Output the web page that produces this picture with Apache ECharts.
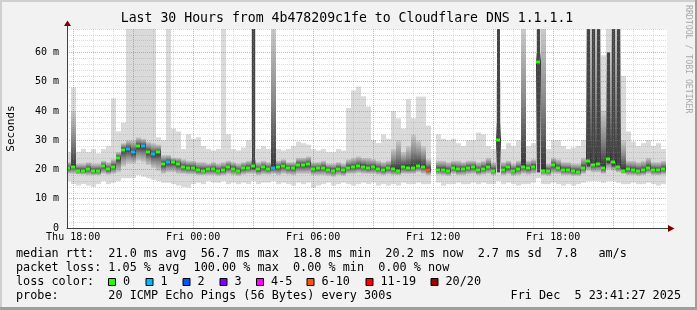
<!DOCTYPE html>
<html><head><meta charset="utf-8">
<script src="https://cdn.jsdelivr.net/npm/echarts@6/dist/echarts.min.js"></script>
<style>html,body{margin:0;padding:0;background:#f2f2f2}#c{width:697px;height:310px}</style>
</head><body><div id="c"></div>
<script>
// ---------- DATA (x = minutes since Thu 00:00) ----------
const START = 1061.45;           // Thu 17:41:27
const END = 2861.45;             // Fri 23:41:27
const FIRST = 1065;              // first sample, Thu 17:45
const STEP = 15;                 // minutes per sample

const median = [
  20.5,21.0,19.6,19.6,20.2,19.4,19.5,21.2,20.0,21.0,
  24.0,26.8,27.0,25.8,28.0,28.0,26.0,25.2,25.8,21.8,
  22.5,22.5,21.8,20.8,20.6,20.5,19.7,19.6,20.2,20.1,
  19.6,19.8,20.8,20.3,19.6,20.4,20.6,21.2,20.0,20.7,
  20.2,20.5,20.8,21.3,20.6,20.5,21.6,21.6,21.8,20.2,
  20.4,20.6,19.9,19.6,20.3,19.7,20.6,20.8,21.1,21.0,
  20.4,20.8,20.2,19.8,20.4,20.1,19.6,20.8,20.4,20.6,
  21.2,20.8,19.9,null,19.9,19.9,19.5,20.5,20.0,20.2,
  20.6,20.8,19.7,20.3,21.0,19.6,30.0,19.8,20.7,19.6,
  20.3,20.8,20.4,21.0,56.7,19.6,19.6,21.5,20.5,19.9,
  19.8,19.4,19.3,20.6,22.8,21.6,22.0,20.4,23.6,22.4,
  20.9,19.6,20.0,19.8,19.6,19.7,20.6,19.9,19.7,20.2
];
const outerLo = [
  16,15,14.5,15,14.5,14,15,16,15,15.5,
  16,17,17,17,18,17.5,17,16.5,16,15.5,
  15.5,15,14.5,14,13.8,15,15.5,15,16,15.5,
  15.5,16,15,15.5,15,15.5,15,16,15,15.5,
  15.5,16,15,15.5,15,14.5,15.5,15,15.5,13.7,
  14.5,15,15.5,14.5,15,15.5,15,14.5,15,15.5,
  15,15.5,14.5,15,14.5,15,14.5,15.5,15,15,
  15.5,15,15,null,15.5,14.5,15,15,15.5,15,
  15,15.5,15,15.5,15,15,16,15,15.5,15,
  14.5,15,15,15.5,17,15,15,15.5,15,14.5,
  15,14.5,15,15.5,16,16,16,15.5,16,16,
  15.5,15,15,15.5,15,15,15.5,15,14.5,15
];
const outerHi = [
  26,48,26,27,26,27,25.5,27,28,44.3,
  33,36,68,68,68,68,68,68,31,30,
  68,34,33,27,32,30.5,31,28,27,26.5,
  27,68,32,27,26.5,27.5,30,68,27,28,
  27,68,27,26.5,27,28,29.5,29,28.5,27,
  26.5,27,26,26,27,26.5,41,47,48.3,45,
  41.5,30,29,32,30.5,40,37.5,34,44,37.5,
  44.9,44.9,35,null,32,30.5,30,30.5,29,28,
  30,30,32.6,32,28,27,50.6,27,29,28,
  30,50,28,29,68,68,27,30,30,28,
  27,27.5,28,30,68,68,68,59,68,68,
  68,52,33,29.5,28,29,30,28,29,27
];
const midLo = [
  18.5,18.5,18.3,18.2,18,18,18,18.5,18.2,18.5,
  19,21,22,22,23,22.5,21.5,20.5,19.5,18.5,
  19,19,18.5,18.5,18.3,18.3,18,18,18,18,
  17.8,18,18.3,18,17.8,18.2,18.5,18.5,18,18.3,
  18.2,18.5,18,18.5,18.2,18,18.5,18.5,18.5,18,
  18,18,17.8,17.5,18,17.8,18.5,18.5,18.8,18.5,
  18.5,18.5,18.2,18,18.3,18,18,18.5,18.5,18.5,
  19,18.5,18,null,18.2,18,17.8,18.5,18,18,
  18.3,18.5,18,18.2,18.5,18,20,18,18.3,17.8,
  18,18.5,18.2,18.5,19,18,17.8,18.5,18.5,18,
  18,17.8,17.8,18.5,19.5,19,19,18.5,20,19.5,
  19,18.5,18,18,17.8,18,18.5,18,18,18.2
];
const midHi = [
  22.5,40,22,22,22.5,22,22,23,22.5,23.5,
  26,29,30,30,31,30.5,29.5,29,28.5,25,
  25,24,24,23.5,23,23,22.5,22.5,22,22.5,
  22,22.5,23,22.5,22,22.5,23,23.5,22.5,23,
  22.5,68,23,23.5,22.5,22.5,24,24,24.5,22.5,
  22.5,23,22,22,22.5,22,23.5,24,24.5,24,
  24,23.5,23,22.5,23,27,30,26,28,32,
  30,28,23.5,null,23,23,22.5,23,23,22.5,
  23,23,22.5,23,24,22.5,36,22.5,23,22,
  23,68,23,23.5,60,68,22,24,23.5,22.5,
  22.5,22,22,24,68,68,68,40,60,68,
  68,30,23,23,22.5,23,24,22.5,22.5,23
];
// columns where most pings were slow: [sample index, low, high]
const darkSpikes = [[37,20,68],[86,19,68],[94,19,68],[104,21,68],[105,21,68],[106,21,68],[108,22,60],[109,21,68],[110,21,68]];
// samples with packet loss: [sample index, lost pings]
const lossPoints = [[12,1],[13,1],[15,1],[17,1],[20,1],[41,1],[72,8]];

const xTickValues = [1080, 1440, 1800, 2160, 2520];
const xTickLabels = ['Thu 18:00', 'Fri 00:00', 'Fri 06:00', 'Fri 12:00', 'Fri 18:00'];
const lossLabels = ['0', '1', '2', '3', '4-5', '6-10', '11-19', '20/20'];
const lossUpper  = [0, 1, 2, 3, 5, 10, 19, 20];

const textRows = [
  'median rtt:  21.0 ms avg  56.7 ms max  18.8 ms min  20.2 ms now  2.7 ms sd  7.8   am/s',
  'packet loss: 1.05 % avg  100.00 % max  0.00 % min  0.00 % now',
  'loss color:',
  'probe:       20 ICMP Echo Pings (56 Bytes) every 300s'
];
const titleText = 'Last 30 Hours from 4b478209c1fe to Cloudflare DNS 1.1.1.1';
const stampText = 'Fri Dec  5 23:41:27 2025';

// ---------- STYLE ----------
const lossColors = ['#26ff00', '#00b8ff', '#0059ff', '#7e00ff', '#ff00ff', '#ff5500', '#ff0000', '#a10000'];
const MONO = '"DejaVu Sans Mono", monospace';
const GRID = 'rgba(143,143,143,0.32)';
const MGRID = 'rgba(222,80,80,0.5)';
const AXIS = '#404040';
const ARROW = '#7f0000';
const OUTER = '#dadada';
const LIGHT = '#cacaca', MIDC = '#8a8a8a', DARK = '#333333';

function lossColor(n) {
  for (let k = 0; k < lossUpper.length; k++) if (n <= lossUpper[k]) return lossColors[k];
  return lossColors[lossColors.length - 1];
}
const lossMap = {};
lossPoints.forEach(p => lossMap[p[0]] = p[1]);

function xOf(i) { return FIRST + STEP * i; }
function grad(top, bottom) {
  return new echarts.graphic.LinearGradient(0, 0, 0, 1, [
    {offset: 0, color: top}, {offset: 0.5, color: MIDC}, {offset: 1, color: bottom}]);
}
function colEdges(api, x) {
  const xl = Math.round(api.coord([x - STEP / 2, 0])[0]);
  const xr = Math.round(api.coord([x + STEP / 2, 0])[0]);
  return [xl, xr];
}

const outerData = [], midData = [], medData = [];
for (let i = 0; i < median.length; i++) {
  if (median[i] == null) continue;
  outerData.push([xOf(i), outerLo[i], outerHi[i]]);
  midData.push([xOf(i), midLo[i], midHi[i], median[i]]);
  medData.push([xOf(i), median[i], lossMap[i] || 0]);
}
const spikeData = darkSpikes.map(s => [xOf(s[0]), s[1], s[2]]);

const gridLines = [];
for (let v = 2; v <= 68; v += 2)
  gridLines.push({yAxis: v, lineStyle: {color: v % 10 === 0 ? MGRID : GRID, type: [1, 1], width: 1}});
for (let t = 1080; t < END; t += 60)
  gridLines.push({xAxis: t, lineStyle: {color: t % 180 === 0 ? MGRID : GRID, type: [1, 1], width: 1}});

const chart = echarts.init(document.getElementById('c'), null, {renderer: 'canvas', width: 697, height: 310});

const graphics = [
  {type: 'rect', shape: {x: 0, y: 0, width: 697, height: 2}, style: {fill: '#cfcfcf'}, silent: true},
  {type: 'rect', shape: {x: 0, y: 0, width: 2, height: 310}, style: {fill: '#cfcfcf'}, silent: true},
  {type: 'rect', shape: {x: 0, y: 307, width: 697, height: 3}, style: {fill: '#9e9e9e'}, silent: true},
  {type: 'rect', shape: {x: 695, y: 0, width: 2, height: 310}, style: {fill: '#9e9e9e'}, silent: true},
  {type: 'text', x: 347, y: 18.5, style: {text: titleText, fontFamily: MONO, fontSize: 13.2, fill: '#000', align: 'center', verticalAlign: 'middle'}},
  {type: 'text', x: 688, y: 5, rotation: -Math.PI / 2, style: {text: 'RRDTOOL / TOBI OETIKER', fontFamily: MONO, fontSize: 8.2, fill: '#a8a8a8', align: 'left', verticalAlign: 'middle'}},
  // axis arrows
  {type: 'line', shape: {x1: 667, y1: 228.5, x2: 669, y2: 228.5}, style: {stroke: AXIS, lineWidth: 1}, z: 50},
  {type: 'polygon', shape: {points: [[668, 225], [674.5, 228.5], [668, 232]]}, style: {fill: ARROW}, z: 50},
  {type: 'line', shape: {x1: 67.5, y1: 29, x2: 67.5, y2: 25}, style: {stroke: AXIS, lineWidth: 1}, z: 50},
  {type: 'polygon', shape: {points: [[64, 26], [67.5, 20.5], [71, 26]]}, style: {fill: ARROW}, z: 50},
  {type: 'text', x: 681, y: 296, style: {text: stampText, fontFamily: MONO, fontSize: 11.8, fill: '#000', align: 'right', verticalAlign: 'middle'}}
];
const rowY = [254, 268.3, 282.3, 296];
textRows.forEach((t, k) => graphics.push({type: 'text', x: 16, y: rowY[k],
  style: {text: t, fontFamily: MONO, fontSize: 11.8, fill: '#000', align: 'left', verticalAlign: 'middle'}}));
const boxX = [108, 145.5, 182.5, 219.5, 256, 306.5, 365.5, 430.5];
lossLabels.forEach((lab, k) => {
  graphics.push({type: 'rect', shape: {x: boxX[k] + 0.5, y: 278.5, width: 7, height: 7},
    style: {fill: lossColors[k], stroke: '#000', lineWidth: 1}});
  graphics.push({type: 'text', x: boxX[k] + 15, y: 282.3,
    style: {text: lab, fontFamily: MONO, fontSize: 11.8, fill: '#000', align: 'left', verticalAlign: 'middle'}});
});

chart.setOption({
  animation: false,
  backgroundColor: '#f2f2f2',
  grid: {left: 67, top: 29, width: 600, height: 199, show: true, backgroundColor: '#ffffff', borderWidth: 0,
         containLabel: false, outerBoundsMode: 'none'},
  xAxis: {
    type: 'value', min: START, max: END, z: 20,
    axisLine: {show: true, lineStyle: {color: AXIS, width: 1}},
    axisTick: {show: false},
    splitLine: {show: false},
    axisLabel: {
      customValues: xTickValues, margin: 4, fontFamily: MONO, fontSize: 10, color: '#000',
      formatter: v => { const k = xTickValues.indexOf(Math.round(v)); return k >= 0 ? xTickLabels[k] : ''; }
    }
  },
  yAxis: {
    type: 'value', min: 0, max: 68, interval: 2, z: 20,
    name: 'Seconds', nameLocation: 'middle', nameGap: 50,
    nameTextStyle: {fontFamily: MONO, fontSize: 11, color: '#000'},
    axisLine: {show: true, lineStyle: {color: AXIS, width: 1}},
    axisTick: {show: false},
    splitLine: {show: false},
    axisLabel: {
      margin: 8, fontFamily: MONO, fontSize: 10, color: '#000',
      formatter: v => { const r = Math.round(v); if (r % 10 !== 0) return ''; return r === 0 ? '0' : r + ' m'; }
    }
  },
  graphic: graphics,
  series: [
    {
      type: 'custom', name: 'range', z: 2, clip: true, silent: true, data: outerData,
      encode: {x: 0, y: [1, 2]},
      renderItem(params, api) {
        const x = api.value(0), lo = api.value(1), hi = api.value(2);
        const [xl, xr] = colEdges(api, x);
        const y1 = api.coord([x, hi])[1], y2 = api.coord([x, lo])[1];
        return {type: 'rect', shape: {x: xl, y: y1, width: xr - xl, height: y2 - y1}, style: {fill: OUTER}};
      }
    },
    {
      type: 'custom', name: 'spread', z: 3, clip: true, silent: true, data: midData,
      encode: {x: 0, y: [1, 2, 3]},
      renderItem(params, api) {
        const x = api.value(0), lo = api.value(1), hi = api.value(2), m = api.value(3);
        const [xl, xr] = colEdges(api, x);
        const yLo = api.coord([x, lo])[1], yHi = api.coord([x, hi])[1], yM = api.coord([x, m])[1];
        return {type: 'group', children: [
          {type: 'rect', shape: {x: xl, y: yM, width: xr - xl, height: yLo - yM}, style: {fill: grad(DARK, LIGHT)}},
          {type: 'rect', shape: {x: xl, y: yHi, width: xr - xl, height: yM - yHi}, style: {fill: grad(LIGHT, DARK)}}
        ]};
      }
    },
    {
      type: 'custom', name: 'slow', z: 4, clip: true, silent: true, data: spikeData,
      encode: {x: 0, y: [1, 2]},
      renderItem(params, api) {
        const x = api.value(0), lo = api.value(1), hi = api.value(2);
        const xc = Math.round(api.coord([x, 0])[0]);
        const y1 = api.coord([x, hi])[1], y2 = api.coord([x, lo])[1];
        return {type: 'rect', shape: {x: xc - 1, y: y1, width: 3, height: y2 - y1}, style: {fill: '#454545'}};
      }
    },
    {
      type: 'line', name: 'grid', z: 1, data: [[START, 0]], symbol: 'none', silent: true,
      lineStyle: {opacity: 0},
      markLine: {silent: true, symbol: ['none', 'none'], label: {show: false}, z: 5, animation: false, data: gridLines}
    },
    {
      type: 'custom', name: 'median', z: 6, clip: true, silent: true, data: medData,
      encode: {x: 0, y: 1},
      renderItem(params, api) {
        const x = api.value(0), m = api.value(1), loss = api.value(2);
        const [xl, xr] = colEdges(api, x);
        const yM = api.coord([x, m])[1];
        return {type: 'rect', shape: {x: xl, y: Math.round(yM) - 1.5, width: xr - xl - 1, height: 3}, style: {fill: lossColor(loss)}};
      }
    }
  ]
});
</script>
</body></html>
